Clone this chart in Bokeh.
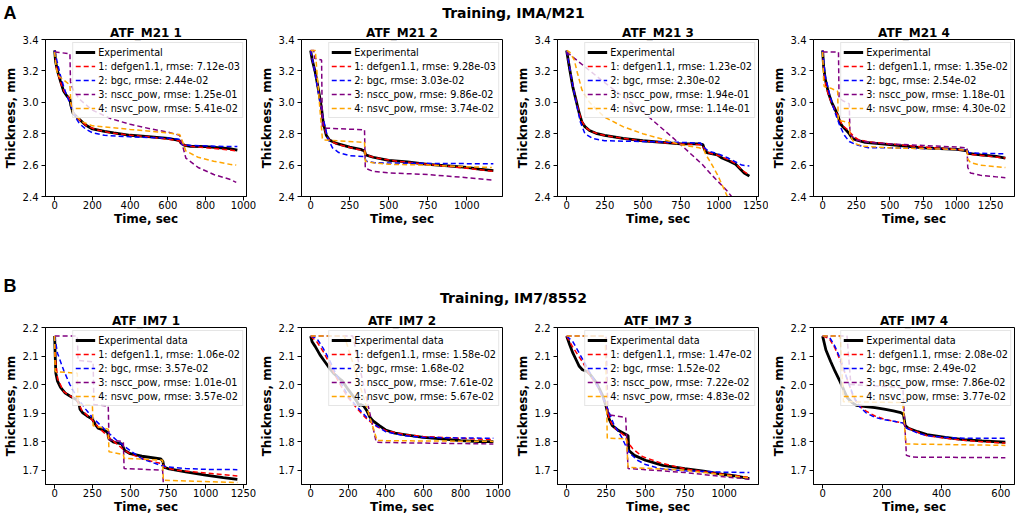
from bokeh.plotting import figure
from bokeh.layouts import column, row
from bokeh.models import Range1d, FixedTicker, PrintfTickFormatter, Legend, LegendItem
from bokeh.core.properties import value
from bokeh.embed import file_html
from bokeh.resources import INLINE

FONT = "DejaVu Sans"
MODEL_NAMES = ["1: defgen1.1", "2: bgc", "3: nscc_pow", "4: nsvc_pow"]
MODEL_COLORS = ["#ff0000", "#0000ff", "#800080", "#ffa500"]

YLIM_A = (2.4, 3.4)
YTICKS_A = [2.4, 2.6, 2.8, 3.0, 3.2, 3.4]
YLIM_B = (1.65, 2.2)
YTICKS_B = [1.7, 1.8, 1.9, 2.0, 2.1, 2.2]

# ---------------- Row A : IMA/M21 ----------------
# ATF_M21 1
m21_1_xticks = [0, 200, 400, 600, 800, 1000]
m21_1_rmse = ["7.12e-03", "2.44e-02", "1.25e-01", "5.41e-02"]
m21_1_exp_t = [0, 5, 15, 31, 48, 65, 81, 86, 98, 123, 164, 200, 264, 313, 400, 512, 600, 645, 662, 670, 690, 720, 800, 880, 927, 968]
m21_1_exp_y = [3.33, 3.26, 3.20, 3.135, 3.07, 3.04, 3.02, 2.98, 2.93, 2.90, 2.855, 2.83, 2.815, 2.805, 2.79, 2.78, 2.77, 2.76, 2.755, 2.74, 2.725, 2.72, 2.718, 2.71, 2.705, 2.695]
m21_1_m1_t = [0, 10, 30, 50, 70, 85, 100, 130, 170, 220, 300, 400, 500, 600, 660, 675, 720, 800, 900, 968]
m21_1_m1_y = [3.33, 3.22, 3.13, 3.07, 3.04, 3.0, 2.93, 2.89, 2.85, 2.825, 2.805, 2.79, 2.78, 2.765, 2.755, 2.73, 2.72, 2.71, 2.70, 2.69]
m21_1_m2_t = [0, 15, 31, 48, 65, 82, 98, 115, 131, 164, 200, 264, 400, 600, 665, 675, 720, 850, 968]
m21_1_m2_y = [3.33, 3.25, 3.17, 3.10, 3.04, 2.99, 2.94, 2.895, 2.865, 2.83, 2.806, 2.79, 2.78, 2.772, 2.765, 2.73, 2.725, 2.72, 2.718]
m21_1_m3_t = [0, 81, 84, 98, 131, 200, 297, 400, 512, 600, 662, 672, 695, 760, 843, 927, 962]
m21_1_m3_y = [3.32, 3.31, 3.13, 3.08, 3.02, 2.95, 2.896, 2.86, 2.83, 2.81, 2.79, 2.75, 2.645, 2.585, 2.54, 2.51, 2.49]
m21_1_m4_t = [0, 8, 18, 50, 81, 86, 98, 148, 200, 297, 400, 512, 600, 662, 672, 695, 760, 843, 927, 962]
m21_1_m4_y = [3.32, 3.22, 3.17, 3.14, 3.11, 2.99, 2.93, 2.875, 2.85, 2.84, 2.827, 2.815, 2.805, 2.795, 2.77, 2.69, 2.65, 2.625, 2.605, 2.60]

# ATF_M21 2
m21_2_xticks = [0, 250, 500, 750, 1000]
m21_2_rmse = ["9.28e-03", "3.03e-02", "9.86e-02", "3.74e-02"]
m21_2_exp_t = [0, 10, 30, 50, 70, 80, 100, 120, 160, 250, 320, 345, 352, 400, 500, 620, 750, 880, 1000, 1080, 1170]
m21_2_exp_y = [3.33, 3.27, 3.19, 3.08, 2.96, 2.875, 2.79, 2.76, 2.74, 2.715, 2.70, 2.69, 2.665, 2.65, 2.63, 2.62, 2.605, 2.595, 2.585, 2.575, 2.565]
m21_2_m1_t = [0, 15, 35, 55, 75, 90, 110, 140, 200, 280, 345, 355, 420, 550, 700, 850, 1000, 1170]
m21_2_m1_y = [3.33, 3.25, 3.16, 3.04, 2.92, 2.83, 2.77, 2.745, 2.725, 2.705, 2.69, 2.665, 2.645, 2.625, 2.61, 2.595, 2.58, 2.56]
m21_2_m2_t = [0, 20, 50, 80, 110, 140, 180, 250, 345, 355, 410, 600, 900, 1170]
m21_2_m2_y = [3.33, 3.23, 3.06, 2.90, 2.77, 2.71, 2.68, 2.66, 2.655, 2.625, 2.615, 2.612, 2.61, 2.608]
m21_2_m3_t = [0, 20, 25, 70, 75, 100, 345, 350, 400, 500, 750, 1000, 1160]
m21_2_m3_y = [3.33, 3.33, 3.28, 3.27, 2.845, 2.835, 2.825, 2.58, 2.56, 2.55, 2.54, 2.52, 2.505]
m21_2_m4_t = [0, 30, 40, 60, 75, 80, 345, 350, 400, 500, 750, 1000, 1160]
m21_2_m4_y = [3.33, 3.33, 3.2, 2.95, 2.77, 2.76, 2.745, 2.625, 2.615, 2.605, 2.60, 2.59, 2.585]

# ATF_M21 3
m21_3_xticks = [0, 250, 500, 750, 1000, 1250]
m21_3_rmse = ["1.23e-02", "2.30e-02", "1.94e-01", "1.14e-01"]
m21_3_exp_t = [0, 20, 40, 60, 80, 100, 120, 150, 200, 250, 370, 500, 630, 750, 870, 895, 905, 920, 990, 1020, 1070, 1110, 1140, 1166, 1200]
m21_3_exp_y = [3.33, 3.21, 3.10, 3.02, 2.94, 2.875, 2.845, 2.82, 2.80, 2.79, 2.77, 2.755, 2.745, 2.735, 2.735, 2.73, 2.70, 2.68, 2.665, 2.645, 2.625, 2.605, 2.575, 2.55, 2.53]
m21_3_m1_t = [0, 20, 40, 60, 80, 100, 125, 160, 220, 300, 450, 600, 750, 880, 900, 930, 1000, 1060, 1110, 1150, 1200]
m21_3_m1_y = [3.33, 3.22, 3.11, 3.02, 2.94, 2.88, 2.84, 2.815, 2.795, 2.78, 2.76, 2.745, 2.735, 2.73, 2.71, 2.68, 2.66, 2.635, 2.61, 2.57, 2.535]
m21_3_m2_t = [0, 20, 40, 60, 90, 120, 170, 250, 500, 750, 880, 900, 930, 1000, 1060, 1110, 1150, 1200]
m21_3_m2_y = [3.33, 3.22, 3.11, 3.01, 2.875, 2.80, 2.77, 2.755, 2.75, 2.745, 2.74, 2.715, 2.69, 2.67, 2.645, 2.62, 2.60, 2.595]
m21_3_m3_t = [0, 250, 500, 750, 890, 950, 1050, 1100]
m21_3_m3_y = [3.32, 3.125, 2.94, 2.73, 2.605, 2.54, 2.44, 2.38]
m21_3_m4_t = [0, 20, 50, 70, 100, 150, 200, 250, 370, 500, 630, 750, 870, 900, 915, 950, 990, 1030, 1060]
m21_3_m4_y = [3.33, 3.32, 3.27, 3.19, 3.08, 3.0, 2.95, 2.905, 2.845, 2.80, 2.765, 2.73, 2.71, 2.70, 2.665, 2.61, 2.54, 2.455, 2.39]

# ATF_M21 4
m21_4_xticks = [0, 250, 500, 750, 1000, 1250]
m21_4_rmse = ["1.35e-02", "2.54e-02", "1.18e-01", "4.30e-02"]
m21_4_exp_t = [0, 7, 19, 43, 67, 90, 114, 131, 150, 178, 198, 221, 250, 317, 500, 750, 1000, 1075, 1082, 1174, 1293, 1360]
m21_4_exp_y = [3.33, 3.23, 3.15, 3.06, 3.0, 2.96, 2.915, 2.865, 2.845, 2.82, 2.80, 2.77, 2.76, 2.745, 2.73, 2.71, 2.70, 2.69, 2.675, 2.665, 2.655, 2.645]
m21_4_m1_t = [0, 10, 25, 50, 75, 100, 125, 150, 180, 200, 230, 260, 330, 500, 750, 1000, 1075, 1085, 1200, 1360]
m21_4_m1_y = [3.33, 3.19, 3.10, 3.03, 2.98, 2.94, 2.89, 2.85, 2.83, 2.81, 2.785, 2.765, 2.75, 2.735, 2.715, 2.70, 2.69, 2.67, 2.66, 2.645]
m21_4_m2_t = [0, 19, 55, 90, 126, 162, 198, 250, 340, 500, 750, 1000, 1075, 1085, 1174, 1360]
m21_4_m2_y = [3.33, 3.17, 3.04, 2.94, 2.855, 2.79, 2.75, 2.73, 2.71, 2.71, 2.705, 2.70, 2.698, 2.68, 2.675, 2.672]
m21_4_m3_t = [0, 118, 122, 150, 198, 203, 210, 250, 340, 500, 750, 1000, 1075, 1080, 1100, 1174, 1293, 1360]
m21_4_m3_y = [3.32, 3.32, 3.03, 3.01, 2.99, 2.82, 2.79, 2.76, 2.745, 2.735, 2.725, 2.715, 2.71, 2.585, 2.55, 2.535, 2.525, 2.52]
m21_4_m4_t = [0, 8, 12, 60, 112, 116, 150, 198, 203, 230, 250, 300, 500, 750, 1000, 1075, 1080, 1100, 1174, 1293, 1360]
m21_4_m4_y = [3.32, 3.12, 3.10, 3.09, 3.07, 2.885, 2.88, 2.87, 2.79, 2.75, 2.735, 2.72, 2.71, 2.705, 2.70, 2.695, 2.64, 2.615, 2.60, 2.59, 2.585]

# ---------------- Row B : IM7/8552 ----------------
# ATF_IM7 1
im7_1_xticks = [0, 250, 500, 750, 1000, 1250]
im7_1_rmse = ["1.06e-02", "3.57e-02", "1.01e-01", "3.57e-02"]
im7_1_exp_t = [0, 4, 8, 19, 39, 70, 101, 143, 160, 168, 184, 215, 250, 267, 288, 330, 350, 360, 392, 444, 464, 500, 578, 703, 717, 723, 750, 868, 1000, 1117, 1210]
im7_1_exp_y = [2.17, 2.098, 2.04, 2.012, 1.99, 1.97, 1.96, 1.948, 1.937, 1.914, 1.902, 1.89, 1.879, 1.862, 1.847, 1.839, 1.833, 1.81, 1.798, 1.792, 1.769, 1.758, 1.749, 1.74, 1.731, 1.711, 1.706, 1.694, 1.683, 1.674, 1.668]
im7_1_m1_t = [0, 5, 20, 60, 150, 180, 250, 300, 360, 450, 500, 600, 715, 730, 800, 1000, 1210]
im7_1_m1_y = [2.17, 2.09, 2.02, 1.975, 1.945, 1.91, 1.875, 1.845, 1.815, 1.775, 1.757, 1.737, 1.722, 1.71, 1.70, 1.69, 1.68]
im7_1_m2_t = [0, 19, 60, 101, 143, 205, 250, 330, 412, 500, 578, 703, 750, 868, 1000, 1210]
im7_1_m2_y = [2.17, 2.11, 2.05, 2.0, 1.96, 1.914, 1.885, 1.844, 1.804, 1.769, 1.74, 1.717, 1.712, 1.706, 1.703, 1.702]
im7_1_m3_t = [0, 150, 155, 255, 260, 355, 360, 455, 460, 715, 722]
im7_1_m3_y = [2.17, 2.17, 2.085, 2.08, 1.93, 1.925, 1.807, 1.80, 1.706, 1.70, 1.63]
im7_1_m4_t = [0, 3, 8, 150, 155, 250, 255, 355, 360, 455, 460, 715, 720, 1210]
im7_1_m4_y = [2.17, 2.05, 2.045, 2.04, 1.93, 1.927, 1.856, 1.844, 1.765, 1.755, 1.742, 1.735, 1.665, 1.657]

# ATF_IM7 2
im7_2_xticks = [0, 200, 400, 600, 800, 1000]
im7_2_rmse = ["1.58e-02", "1.68e-02", "7.61e-02", "5.67e-02"]
im7_2_exp_t = [0, 8, 25, 50, 75, 100, 125, 150, 170, 200, 233, 250, 258, 267, 283, 300, 317, 333, 367, 400, 450, 500, 600, 700, 800, 900, 975]
im7_2_exp_y = [2.17, 2.15, 2.133, 2.104, 2.081, 2.058, 2.038, 2.023, 2.012, 1.983, 1.954, 1.937, 1.927, 1.93, 1.925, 1.908, 1.885, 1.873, 1.856, 1.841, 1.83, 1.825, 1.815, 1.81, 1.804, 1.80, 1.80]
im7_2_m1_t = [0, 33, 67, 100, 133, 167, 200, 250, 300, 350, 400, 500, 600, 800, 975]
im7_2_m1_y = [2.17, 2.15, 2.116, 2.075, 2.029, 1.989, 1.954, 1.914, 1.879, 1.854, 1.839, 1.825, 1.818, 1.812, 1.807]
im7_2_m2_t = [0, 33, 67, 100, 133, 167, 200, 250, 300, 350, 400, 500, 600, 800, 975]
im7_2_m2_y = [2.17, 2.162, 2.127, 2.087, 2.04, 2.0, 1.96, 1.92, 1.885, 1.856, 1.835, 1.821, 1.815, 1.813, 1.812]
im7_2_m3_t = [0, 225, 350, 500, 975]
im7_2_m3_y = [2.17, 2.17, 1.798, 1.796, 1.792]
im7_2_m4_t = [0, 180, 355, 500, 975]
im7_2_m4_y = [2.17, 2.17, 1.804, 1.803, 1.801]

# ATF_IM7 3
im7_3_xticks = [0, 250, 500, 750, 1000]
im7_3_rmse = ["1.47e-02", "1.52e-02", "7.22e-02", "4.83e-02"]
im7_3_exp_t = [0, 20, 40, 60, 80, 100, 130, 150, 190, 230, 250, 270, 290, 330, 370, 390, 395, 430, 500, 610, 750, 870, 1000, 1070, 1160]
im7_3_exp_y = [2.17, 2.139, 2.11, 2.087, 2.064, 2.052, 2.046, 2.035, 2.006, 1.96, 1.925, 1.879, 1.856, 1.839, 1.827, 1.821, 1.769, 1.752, 1.735, 1.717, 1.706, 1.697, 1.685, 1.68, 1.671]
im7_3_m1_t = [0, 40, 100, 150, 200, 250, 270, 300, 370, 385, 420, 480, 600, 750, 1000, 1160]
im7_3_m1_y = [2.17, 2.13, 2.08, 2.03, 1.99, 1.93, 1.88, 1.85, 1.82, 1.80, 1.775, 1.748, 1.725, 1.705, 1.685, 1.675]
im7_3_m2_t = [0, 40, 100, 150, 200, 250, 300, 350, 380, 400, 450, 500, 600, 750, 1000, 1160]
im7_3_m2_y = [2.17, 2.15, 2.09, 2.04, 1.99, 1.93, 1.86, 1.815, 1.78, 1.76, 1.735, 1.72, 1.705, 1.698, 1.693, 1.692]
im7_3_m3_t = [0, 250, 262, 375, 390, 500, 750, 1000, 1160]
im7_3_m3_y = [2.17, 2.17, 1.895, 1.885, 1.706, 1.702, 1.692, 1.677, 1.669]
im7_3_m4_t = [0, 245, 258, 380, 390, 500, 750, 1000, 1160]
im7_3_m4_y = [2.17, 2.17, 1.812, 1.81, 1.71, 1.707, 1.70, 1.683, 1.673]

# ATF_IM7 4
im7_4_xticks = [0, 200, 400, 600]
im7_4_rmse = ["2.08e-02", "2.49e-02", "7.86e-02", "3.77e-02"]
im7_4_exp_t = [0, 11, 27, 42, 58, 73, 83, 99, 114, 145, 176, 207, 238, 263, 272, 278, 289, 320, 351, 413, 474, 536, 615]
im7_4_exp_y = [2.17, 2.121, 2.081, 2.046, 2.012, 1.977, 1.954, 1.937, 1.927, 1.923, 1.919, 1.914, 1.908, 1.902, 1.896, 1.856, 1.847, 1.835, 1.825, 1.815, 1.807, 1.803, 1.798]
im7_4_m1_t = [0, 22, 42, 63, 83, 104, 124, 145, 176, 207, 248, 272, 278, 289, 320, 351, 413, 474, 536, 615]
im7_4_m1_y = [2.17, 2.162, 2.127, 2.075, 2.018, 1.954, 1.925, 1.908, 1.89, 1.879, 1.87, 1.865, 1.856, 1.847, 1.833, 1.821, 1.812, 1.805, 1.80, 1.795]
im7_4_m2_t = [0, 22, 42, 63, 83, 104, 124, 145, 176, 207, 248, 272, 278, 289, 320, 351, 413, 474, 615]
im7_4_m2_y = [2.17, 2.168, 2.133, 2.081, 2.018, 1.96, 1.923, 1.902, 1.885, 1.877, 1.87, 1.865, 1.85, 1.844, 1.83, 1.821, 1.815, 1.812, 1.812]
im7_4_m3_t = [0, 82, 95, 270, 282, 300, 615]
im7_4_m3_y = [2.17, 2.17, 2.0, 1.99, 1.752, 1.746, 1.744]
im7_4_m4_t = [0, 60, 70, 270, 280, 615]
im7_4_m4_y = [2.17, 2.17, 1.94, 1.937, 1.792, 1.787]

ROW_A = [
    ("ATF_M21 1", m21_1_exp_t, m21_1_exp_y, [(m21_1_m1_t, m21_1_m1_y), (m21_1_m2_t, m21_1_m2_y), (m21_1_m3_t, m21_1_m3_y), (m21_1_m4_t, m21_1_m4_y)], m21_1_rmse, m21_1_xticks),
    ("ATF_M21 2", m21_2_exp_t, m21_2_exp_y, [(m21_2_m1_t, m21_2_m1_y), (m21_2_m2_t, m21_2_m2_y), (m21_2_m3_t, m21_2_m3_y), (m21_2_m4_t, m21_2_m4_y)], m21_2_rmse, m21_2_xticks),
    ("ATF_M21 3", m21_3_exp_t, m21_3_exp_y, [(m21_3_m1_t, m21_3_m1_y), (m21_3_m2_t, m21_3_m2_y), (m21_3_m3_t, m21_3_m3_y), (m21_3_m4_t, m21_3_m4_y)], m21_3_rmse, m21_3_xticks),
    ("ATF_M21 4", m21_4_exp_t, m21_4_exp_y, [(m21_4_m1_t, m21_4_m1_y), (m21_4_m2_t, m21_4_m2_y), (m21_4_m3_t, m21_4_m3_y), (m21_4_m4_t, m21_4_m4_y)], m21_4_rmse, m21_4_xticks),
]
ROW_B = [
    ("ATF_IM7 1", im7_1_exp_t, im7_1_exp_y, [(im7_1_m1_t, im7_1_m1_y), (im7_1_m2_t, im7_1_m2_y), (im7_1_m3_t, im7_1_m3_y), (im7_1_m4_t, im7_1_m4_y)], im7_1_rmse, im7_1_xticks),
    ("ATF_IM7 2", im7_2_exp_t, im7_2_exp_y, [(im7_2_m1_t, im7_2_m1_y), (im7_2_m2_t, im7_2_m2_y), (im7_2_m3_t, im7_2_m3_y), (im7_2_m4_t, im7_2_m4_y)], im7_2_rmse, im7_2_xticks),
    ("ATF_IM7 3", im7_3_exp_t, im7_3_exp_y, [(im7_3_m1_t, im7_3_m1_y), (im7_3_m2_t, im7_3_m2_y), (im7_3_m3_t, im7_3_m3_y), (im7_3_m4_t, im7_3_m4_y)], im7_3_rmse, im7_3_xticks),
    ("ATF_IM7 4", im7_4_exp_t, im7_4_exp_y, [(im7_4_m1_t, im7_4_m1_y), (im7_4_m2_t, im7_4_m2_y), (im7_4_m3_t, im7_4_m3_y), (im7_4_m4_t, im7_4_m4_y)], im7_4_rmse, im7_4_xticks),
]

PAGE_W = 1024
W_FIG = 256
H_ROW = 205
H_HA = 23
H_HB = 83


def make_panel(spec, exp_label, ylim, yticks):
    title, et, ey, models, rmse, xticks = spec
    all_t = list(et)
    for mt, _ in models:
        all_t += list(mt)
    t0, t1 = min(all_t), max(all_t)
    span = t1 - t0
    p = figure(width=W_FIG, height=H_ROW,
               x_range=Range1d(t0 - 0.05 * span, t1 + 0.05 * span),
               y_range=Range1d(*ylim),
               title=title, x_axis_label="Time, sec", y_axis_label="Thickness, mm",
               toolbar_location=None, output_backend="svg",
               min_border_left=40, min_border_right=10, min_border_top=0, min_border_bottom=10)
    p.title.align = "center"
    p.title.text_font = FONT
    p.title.text_font_size = "12px"
    p.title.text_font_style = "bold"
    p.title.text_color = "black"
    p.title.standoff = 0
    p.xgrid.visible = False
    p.ygrid.visible = False
    p.outline_line_color = "black"
    p.outline_line_width = 1
    p.background_fill_color = "white"
    p.border_fill_color = "white"
    p.xaxis.ticker = FixedTicker(ticks=xticks)
    p.yaxis.ticker = FixedTicker(ticks=yticks)
    p.xaxis.formatter = PrintfTickFormatter(format="%d")
    p.yaxis.formatter = PrintfTickFormatter(format="%.1f")
    for ax in (p.xaxis[0], p.yaxis[0]):
        ax.major_label_text_font = FONT
        ax.major_label_text_font_size = "10px"
        ax.major_label_text_color = "black"
        ax.axis_label_text_font = FONT
        ax.axis_label_text_font_size = "12px"
        ax.axis_label_text_font_style = "bold"
        ax.axis_label_text_color = "black"
        ax.major_tick_in = 0
        ax.major_tick_out = 4
        ax.minor_tick_line_color = None
        ax.axis_line_color = "black"
        ax.major_tick_line_color = "black"
    p.xaxis.major_label_standoff = 0
    p.xaxis.axis_label_standoff = 0
    p.yaxis.major_label_standoff = 3
    p.yaxis.axis_label_standoff = 2

    r_exp = p.line(et, ey, line_color="black", line_width=2.8)
    items = [LegendItem(label=exp_label, renderers=[r_exp])]
    for (mt, my), name, color, rm in zip(models, MODEL_NAMES, MODEL_COLORS, rmse):
        r = p.line(mt, my, line_color=color, line_width=1.5, line_dash="5 3")
        items.append(LegendItem(label=f"{name}, rmse: {rm}", renderers=[r]))
    leg = Legend(items=items, location="top_right")
    leg.label_text_font = FONT
    leg.label_text_font_size = "9.7px"
    leg.label_text_color = "black"
    leg.glyph_width = 20
    leg.glyph_height = 14
    leg.label_height = 14
    leg.label_standoff = 3
    leg.spacing = 0
    leg.padding = 2
    leg.margin = 3
    leg.border_line_color = "#cccccc"
    leg.border_line_width = 1
    leg.background_fill_color = "white"
    leg.background_fill_alpha = 0.8
    p.add_layout(leg)
    return p


def make_header(height, letter, letter_y, heading, heading_y):
    h = figure(width=PAGE_W, height=height, x_range=Range1d(0, PAGE_W), y_range=Range1d(0, height),
               title=None, x_axis_type=None, y_axis_type=None, toolbar_location=None,
               output_backend="svg", min_border=0)
    h.outline_line_color = None
    h.xgrid.visible = False
    h.ygrid.visible = False
    h.text(x=[3], y=[letter_y], text=[letter], text_font=value("Liberation Sans"),
           text_font_size="18px", text_font_style="bold", text_color="black",
           text_align="left", text_baseline="middle")
    h.text(x=[513], y=[heading_y], text=[heading], text_font=value(FONT),
           text_font_size="14px", text_font_style="bold", text_color="black",
           text_align="center", text_baseline="middle")
    return h


head_a = make_header(H_HA, "A", 10.5, "Training, IMA/M21", 11)
head_b = make_header(H_HB, "B", 26, "Training, IM7/8552", 13.5)
row_a = row([make_panel(s, "Experimental", YLIM_A, YTICKS_A) for s in ROW_A])
row_b = row([make_panel(s, "Experimental data", YLIM_B, YTICKS_B) for s in ROW_B])

layout = column(head_a, row_a, head_b, row_b)
open("out.html", "w").write(file_html(layout, INLINE))
